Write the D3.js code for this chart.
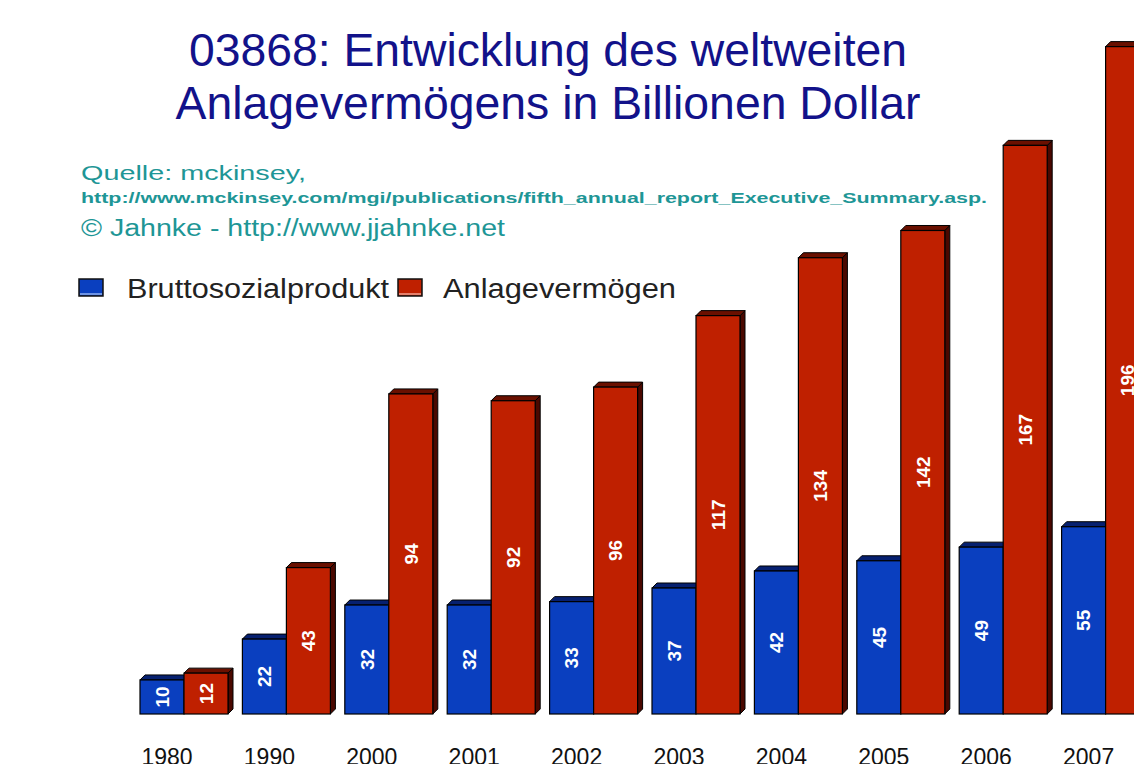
<!DOCTYPE html>
<html><head><meta charset="utf-8">
<script src="https://cdn.jsdelivr.net/npm/d3@7"></script>
<style>body{margin:0;background:#fff}svg{display:block}</style>
</head><body>
<svg id="c" width="1134" height="764"></svg>
<script>
const years = ["1980","1990","2000","2001","2002","2003","2004","2005","2006","2007"];
const seriesNames = ["Bruttosozialprodukt","Anlagevermögen"];
const bsp = [10,22,32,32,33,37,42,45,49,55];
const anlage = [12,43,94,92,96,117,134,142,167,196];
const titleLines = ["03868: Entwicklung des weltweiten","Anlagevermögens in Billionen Dollar"];
const sourceLines = ["Quelle: mckinsey,","http://www.mckinsey.com/mgi/publications/fifth_annual_report_Executive_Summary.asp.","© Jahnke - http://www.jjahnke.net"];

const colors = {front:["#0a3fbf","#bf2000"], top:["#062070","#6a1000"], side:["#031850","#4a0800"]};
const svg = d3.select("#c");
const font = "Arial, 'Liberation Sans', sans-serif";

// Title
const tl = [718, 745];
svg.selectAll("text.title").data(titleLines).join("text")
  .attr("x",548).attr("y",(d,i)=>66+i*53)
  .attr("text-anchor","middle").attr("font-family",font).attr("font-size",46)
  .attr("textLength",(d,i)=>tl[i]).attr("lengthAdjust","spacingAndGlyphs")
  .attr("fill","#12128a").text(d=>d);

// Source
const src = [
  {t:sourceLines[0], y:180, size:21, len:225, w:"normal"},
  {t:sourceLines[1], y:203, size:14, len:906, w:"bold"},
  {t:sourceLines[2], y:236, size:23, len:424, w:"normal"}
];
svg.selectAll("text.src").data(src).join("text")
  .attr("x",81).attr("y",d=>d.y).attr("font-family",font).attr("font-size",d=>d.size)
  .attr("font-weight",d=>d.w).attr("fill","#1e9696")
  .attr("textLength",d=>d.len).attr("lengthAdjust","spacingAndGlyphs").text(d=>d.t);

// Legend
const leg = [{x:79, tx:127, len:262},{x:398, tx:443, len:233}];
leg.forEach((l,i)=>{
  svg.append("rect").attr("x",l.x).attr("y",279).attr("width",24).attr("height",17)
    .attr("fill",colors.front[i]).attr("stroke","#111").attr("stroke-width",1.5);
  svg.append("line").attr("x1",l.x+1).attr("x2",l.x+23).attr("y1",294).attr("y2",294)
    .attr("stroke",i===0?"#8fb0f0":"#f0a090").attr("stroke-width",1.5);
  svg.append("text").attr("x",l.tx).attr("y",298).attr("font-family",font).attr("font-size",27)
    .attr("fill","#222").attr("textLength",l.len).attr("lengthAdjust","spacingAndGlyphs").text(seriesNames[i]);
});

// Scales
const x = d3.scaleBand().domain(years).range([140,1149.6]).paddingInner(0.1406).paddingOuter(0);
const xs = d3.scaleBand().domain([0,1]).range([0,x.bandwidth()]);
const y = d3.scaleLinear().domain([0,200]).range([714,33]);
const dep = 5;

const data = [];
years.forEach((yr,i)=>{
  [bsp[i],anlage[i]].forEach((v,s)=>data.push({yr,s,v}));
});

const g = svg.append("g");
const bars = g.selectAll("g.bar").data(data).join("g").attr("class","bar");
bars.each(function(d){
  const sel = d3.select(this);
  const x0 = x(d.yr)+xs(d.s), w = xs.bandwidth(), y0 = y(d.v), b = y(0);
  sel.append("polygon")
    .attr("points",[[x0+w,y0],[x0+w+dep,y0-dep],[x0+w+dep,b-dep],[x0+w,b]].join(" "))
    .attr("fill",colors.side[d.s]).attr("stroke","#000").attr("stroke-width",1);
  sel.append("polygon")
    .attr("points",[[x0,y0],[x0+dep,y0-dep],[x0+w+dep,y0-dep],[x0+w,y0]].join(" "))
    .attr("fill",colors.top[d.s]).attr("stroke","#000").attr("stroke-width",1);
  sel.append("rect").attr("x",x0).attr("y",y0).attr("width",w).attr("height",b-y0)
    .attr("fill",colors.front[d.s]).attr("stroke","#000").attr("stroke-width",1.2);
  const cx = x0+w/2, cy = (y0+b)/2;
  sel.append("text").attr("transform",`translate(${cx},${cy}) rotate(-90)`)
    .attr("text-anchor","middle").attr("dy","0.36em")
    .attr("font-family",font).attr("font-weight","bold").attr("font-size",19)
    .attr("fill","#fff").text(d.v);
});

// X axis labels
const ax = d3.axisBottom(x).tickSize(0).tickPadding(0);
const axg = svg.append("g").attr("transform","translate(0,748)").call(ax);
axg.select(".domain").remove();
axg.selectAll(".tick").attr("transform",d=>`translate(${x(d)+27},0)`);
axg.selectAll(".tick text").attr("font-family",font).attr("font-size",23)
  .attr("fill","#111").attr("dy",0).attr("y",17);
</script>
</body></html>
